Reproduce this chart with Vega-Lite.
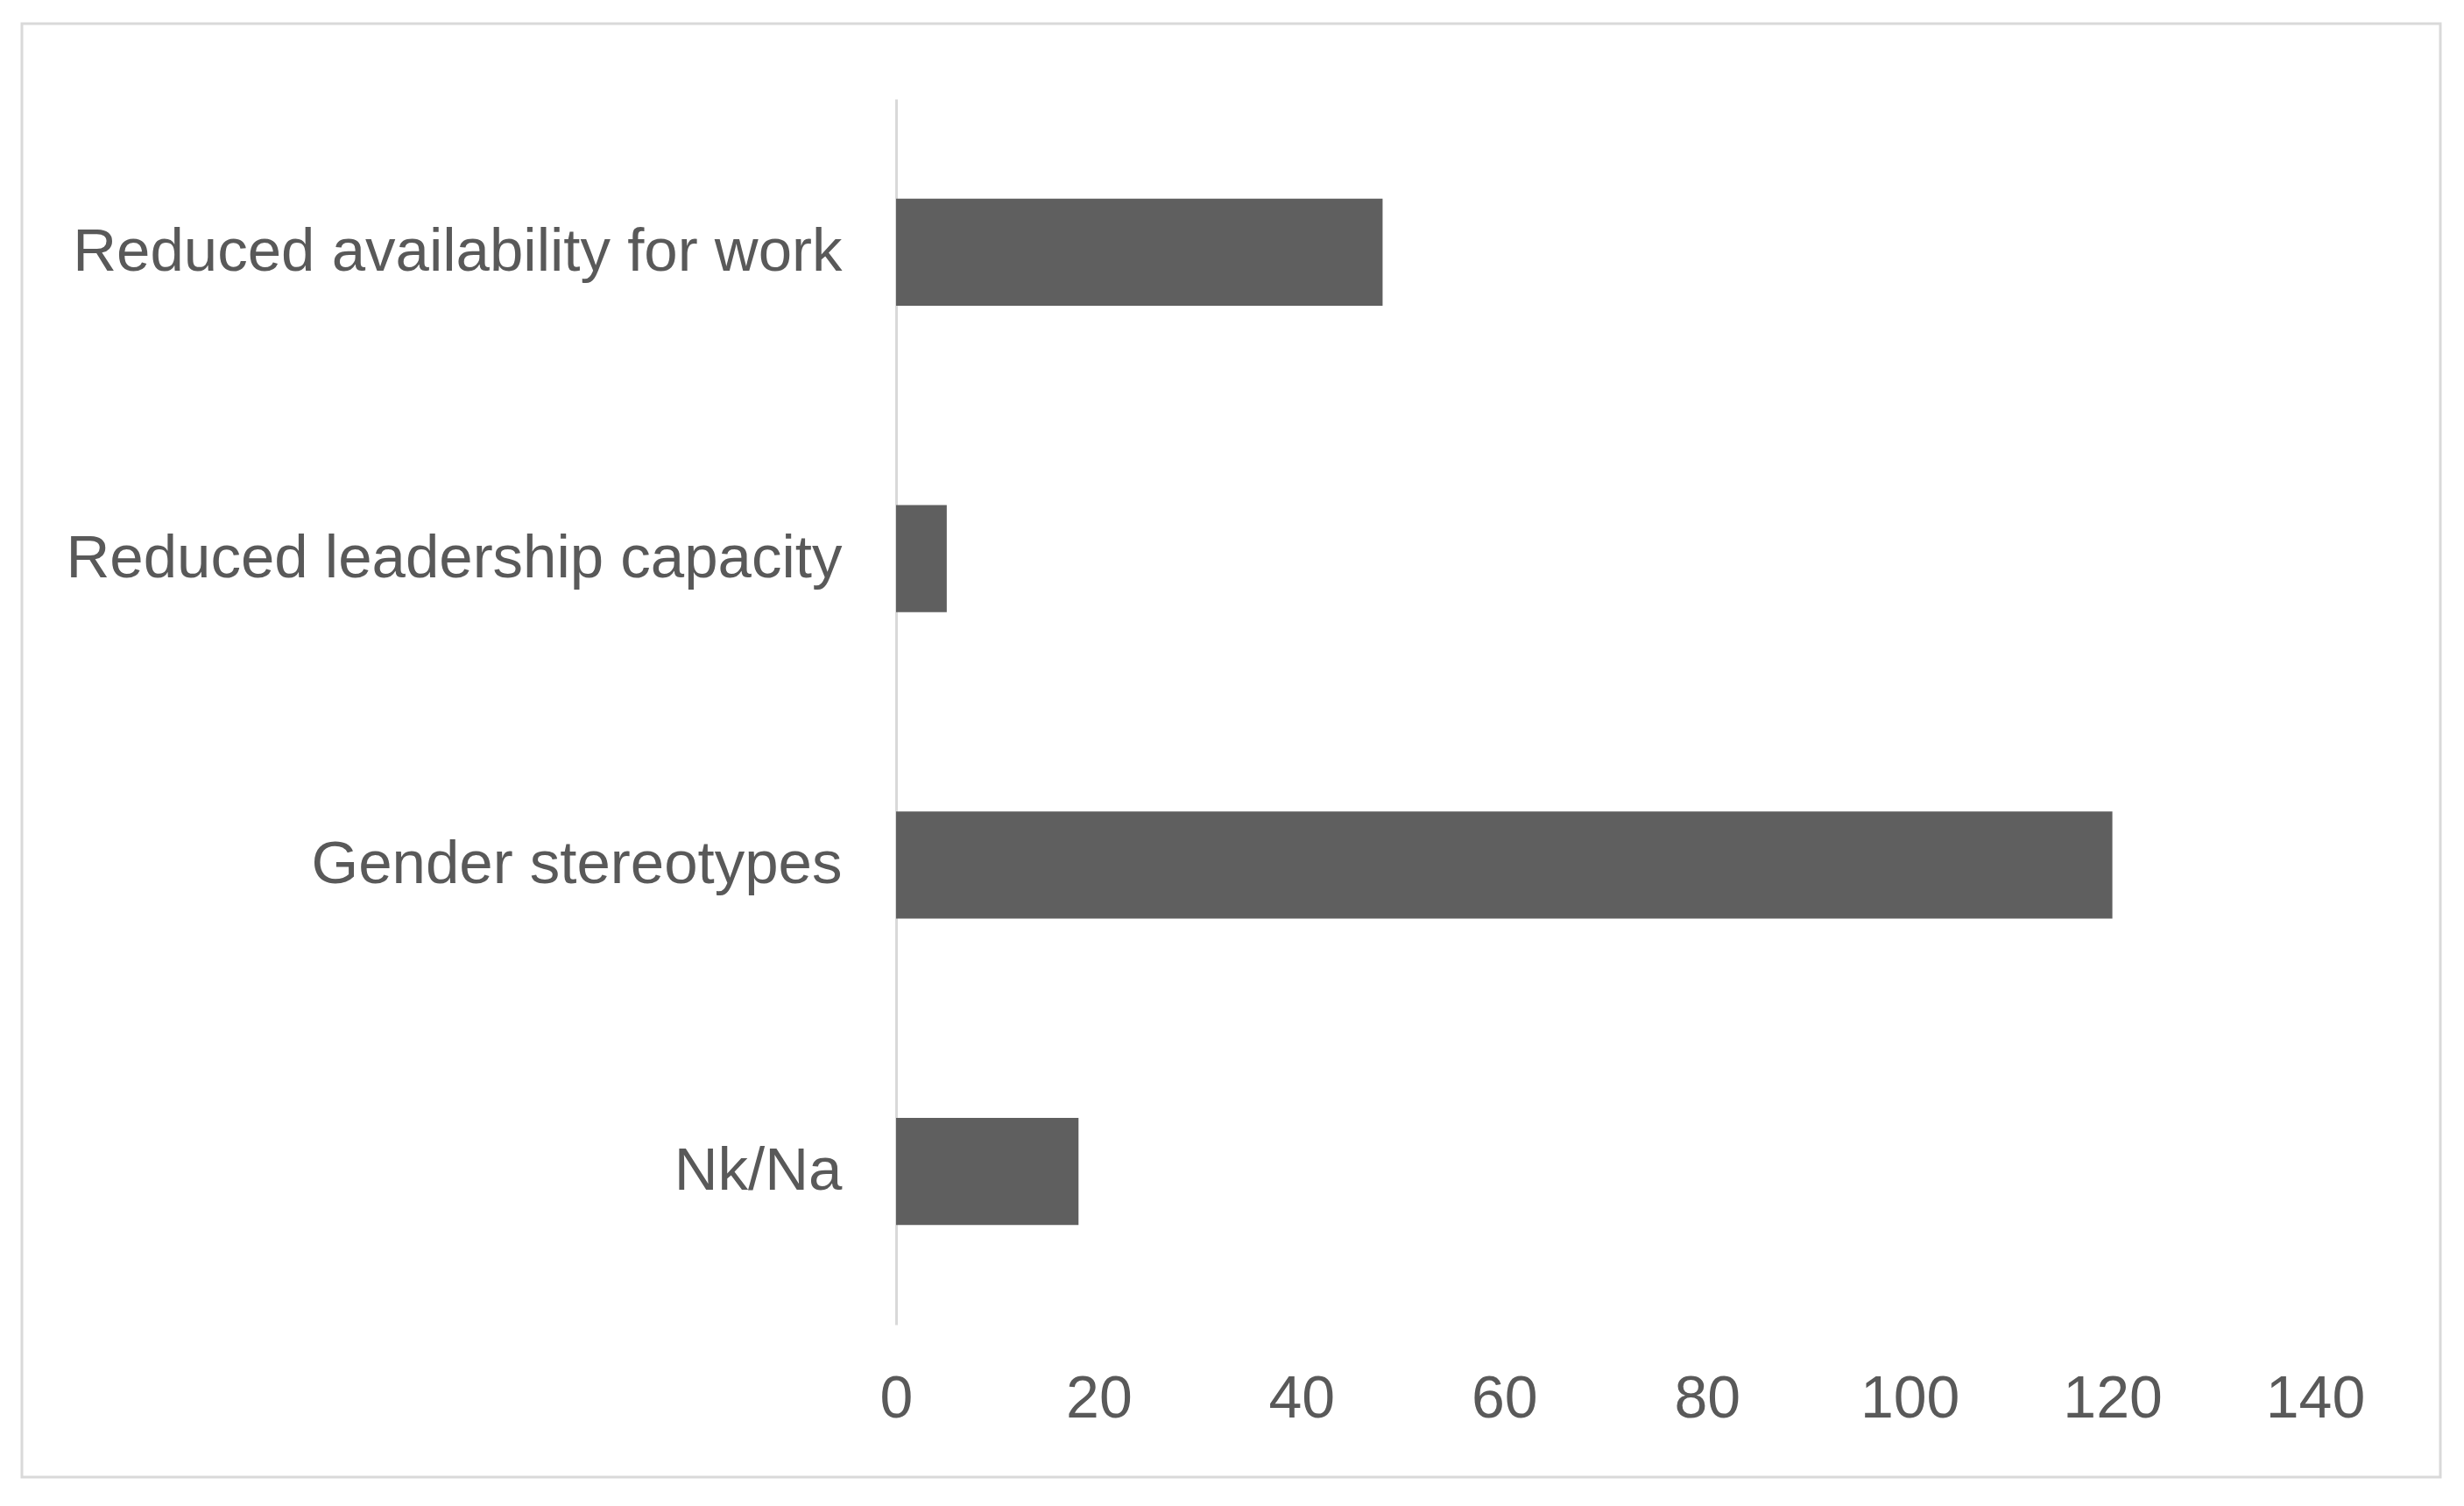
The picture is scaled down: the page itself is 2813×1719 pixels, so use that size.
{
  "$schema": "https://vega.github.io/schema/vega-lite/v6.json",
  "autosize": {"type": "none"},
  "padding": {"left": 25, "top": 27, "right": 27, "bottom": 33},
  "width": 2761,
  "height": 1659,
  "background": "white",
  "config": {
    "view": {"stroke": "#d9d9d9", "strokeWidth": 3},
    "font": "Liberation Sans"
  },
  "data": {
    "values": [
      {"category": "Reduced availability for work", "value": 48},
      {"category": "Reduced leadership capacity", "value": 5},
      {"category": "Gender stereotypes", "value": 120},
      {"category": "Nk/Na", "value": 18}
    ]
  },
  "mark": {"type": "bar", "color": "#5f5f5f"},
  "encoding": {
    "y": {
      "field": "category",
      "type": "nominal",
      "sort": null,
      "scale": {"range": [86, 1485], "paddingInner": 0.65, "paddingOuter": 0.325},
      "axis": {
        "title": null,
        "offset": -998,
        "ticks": false,
        "domain": true,
        "domainColor": "#d9d9d9",
        "domainWidth": 3,
        "labelFontSize": 69,
        "labelColor": "#595959",
        "labelPadding": 62,
        "labelLimit": 0,
        "labelFont": "Liberation Sans"
      }
    },
    "x": {
      "field": "value",
      "type": "quantitative",
      "scale": {"domain": [0, 140], "range": [998, 2618], "nice": false},
      "axis": {
        "title": null,
        "values": [0, 20, 40, 60, 80, 100, 120, 140],
        "offset": -123,
        "ticks": false,
        "domain": false,
        "grid": false,
        "labelPadding": 0,
        "labelFontSize": 68,
        "labelColor": "#595959",
        "labelFont": "Liberation Sans",
        "labelFlush": false
      }
    }
  }
}
